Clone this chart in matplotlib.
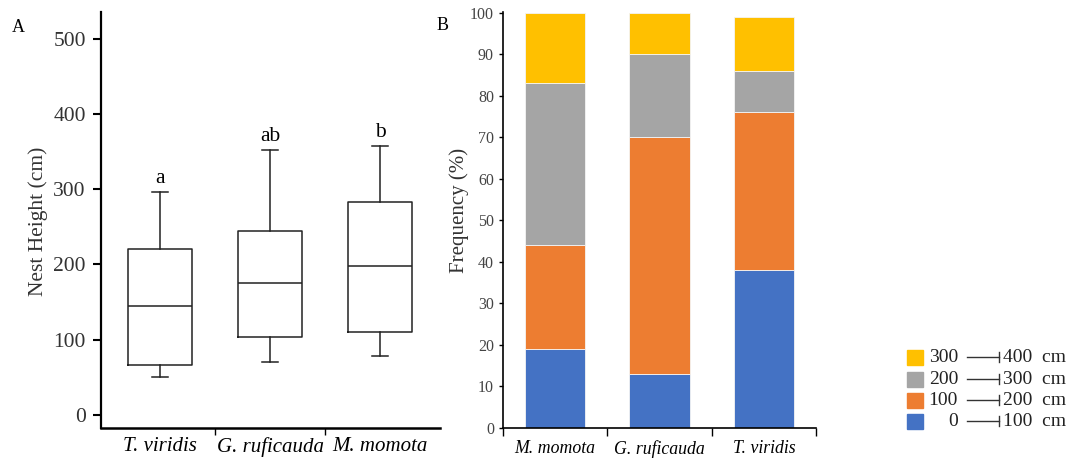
import matplotlib
matplotlib.use("Agg")
import matplotlib.pyplot as plt
from matplotlib.lines import Line2D
from matplotlib.patches import Rectangle

# ---- Panel A data (box plot stats, cm) ----
box_species = ["T. viridis", "G. ruficauda", "M. momota"]
whisk_low = [51, 70, 78]
q1 = [67, 103, 110]
medians = [145, 175, 198]
q3 = [220, 245, 283]
whisk_high = [296, 352, 358]
sig_letters = ["a", "ab", "b"]

# ---- Panel B data (stacked %) ----
bar_species = ["M. momota", "G. ruficauda", "T. viridis"]
class_labels = [("0", "100  cm"), ("100", "200  cm"), ("200", "300  cm"), ("300", "400  cm")]
freq_0_100 = [19, 13, 38]
freq_100_200 = [25, 57, 38]
freq_200_300 = [39, 20, 10]
freq_300_400 = [17, 10, 13]
class_colors = ["#4472C4", "#ED7D31", "#A5A5A5", "#FFC000"]

serif = ["Liberation Serif", "DejaVu Serif"]
plt.rcParams["font.family"] = serif

W, H = 1070, 461
fig = plt.figure(figsize=(W / 100, H / 100), dpi=100)

# ---------------- Panel A ----------------
axA = fig.add_axes([101 / W, 1 - 428 / H, 339 / W, 416 / H])
stats = []
for i, sp in enumerate(box_species):
    stats.append(dict(label=sp, whislo=whisk_low[i], q1=q1[i], med=medians[i],
                      q3=q3[i], whishi=whisk_high[i], fliers=[]))
pos = [1, 2, 3]
axA.bxp(stats, positions=pos, widths=0.58, showfliers=False,
        boxprops=dict(color="#222222", linewidth=1.1),
        medianprops=dict(color="#222222", linewidth=1.1),
        whiskerprops=dict(color="#222222", linewidth=1.1),
        capprops=dict(color="#222222", linewidth=1.1),
        capwidths=0.15)
axA.set_xlim(0.464, 3.545)
axA.set_ylim(-17.3, 535.5)
axA.set_yticks([0, 100, 200, 300, 400, 500])
axA.tick_params(axis="y", labelsize=15.5, labelcolor="#333333", length=6, width=1.5,
                direction="out", pad=5)
axA.set_xticks([1.5, 2.5])
axA.set_xticklabels([])
axA.tick_params(axis="x", length=5, width=1.0, direction="out")
for p, sp in zip(pos, box_species):
    axA.text(p, -29, sp, ha="center", va="top", fontsize=15, style="italic",
             transform=axA.transData, clip_on=False)
for p, letter, hi in zip(pos, sig_letters, whisk_high):
    axA.text(p, hi + 5, letter, ha="center", va="bottom", fontsize=15.5)
axA.spines["top"].set_visible(False)
axA.spines["right"].set_visible(False)
axA.spines["left"].set_linewidth(1.6)
axA.spines["bottom"].set_linewidth(1.8)
fig.text(38 / W, 1 - 221 / H, "Nest Height (cm)", fontsize=15.5, color="#333333",
         rotation=90, ha="center", va="center")
fig.text(12 / W, 1 - 28 / H, "A", fontsize=13, ha="left", va="center")

# ---------------- Panel B ----------------
axB = fig.add_axes([503 / W, 1 - 428 / H, 313 / W, 416 / H])
x = [1, 2, 3]
series = [freq_0_100, freq_100_200, freq_200_300, freq_300_400]
bottom = [0, 0, 0]
for vals, col in zip(series, class_colors):
    axB.bar(x, vals, bottom=bottom, width=0.58, color=col, edgecolor="#f4f4f4", linewidth=0.6)
    bottom = [b + v for b, v in zip(bottom, vals)]
axB.set_xlim(0.5, 3.5)
axB.set_ylim(0, 100.2)
axB.set_yticks(range(0, 101, 10))
axB.tick_params(axis="y", labelsize=11.5, labelcolor="#444444", length=3, width=1.0)
axB.set_xticks([0.5, 1.5, 2.5, 3.5])
axB.set_xticklabels([])
axB.tick_params(axis="x", length=6, width=1.0)
for p, sp in zip(x, bar_species):
    axB.text(p, -3, sp, ha="center", va="top", fontsize=12.8, style="italic", clip_on=False)
axB.spines["top"].set_visible(False)
axB.spines["right"].set_visible(False)
axB.spines["left"].set_linewidth(1.2)
axB.spines["bottom"].set_linewidth(1.2)
fig.text(459 / W, 1 - 210 / H, "Frequency (%)", fontsize=15, color="#333333",
         rotation=90, ha="center", va="center")
fig.text(437 / W, 1 - 25 / H, "B", fontsize=13, ha="left", va="center")

# ---------------- Legend (custom) ----------------
row_y = [421, 400, 379, 357]  # pixel rows for 0-100 ... 300-400
for (lo, hi), col, ry in zip(class_labels, class_colors, row_y):
    yf = 1 - ry / H
    fig.patches.append(Rectangle((907 / W, yf - 7.5 / H), 16 / W, 15 / H,
                                 transform=fig.transFigure, color=col, figure=fig))
    fig.text(958 / W, yf, lo, fontsize=14, ha="right", va="center", color="#222222")
    fig.lines.append(Line2D([967 / W, 999 / W], [yf, yf], transform=fig.transFigure,
                            color="#333333", linewidth=1.0, figure=fig))
    fig.lines.append(Line2D([999 / W, 999 / W], [yf - 5 / H, yf + 5 / H],
                            transform=fig.transFigure, color="#333333", linewidth=1.0, figure=fig))
    fig.text(1003 / W, yf, hi, fontsize=14, ha="left", va="center", color="#222222")

fig.savefig("out.png", dpi=100)
